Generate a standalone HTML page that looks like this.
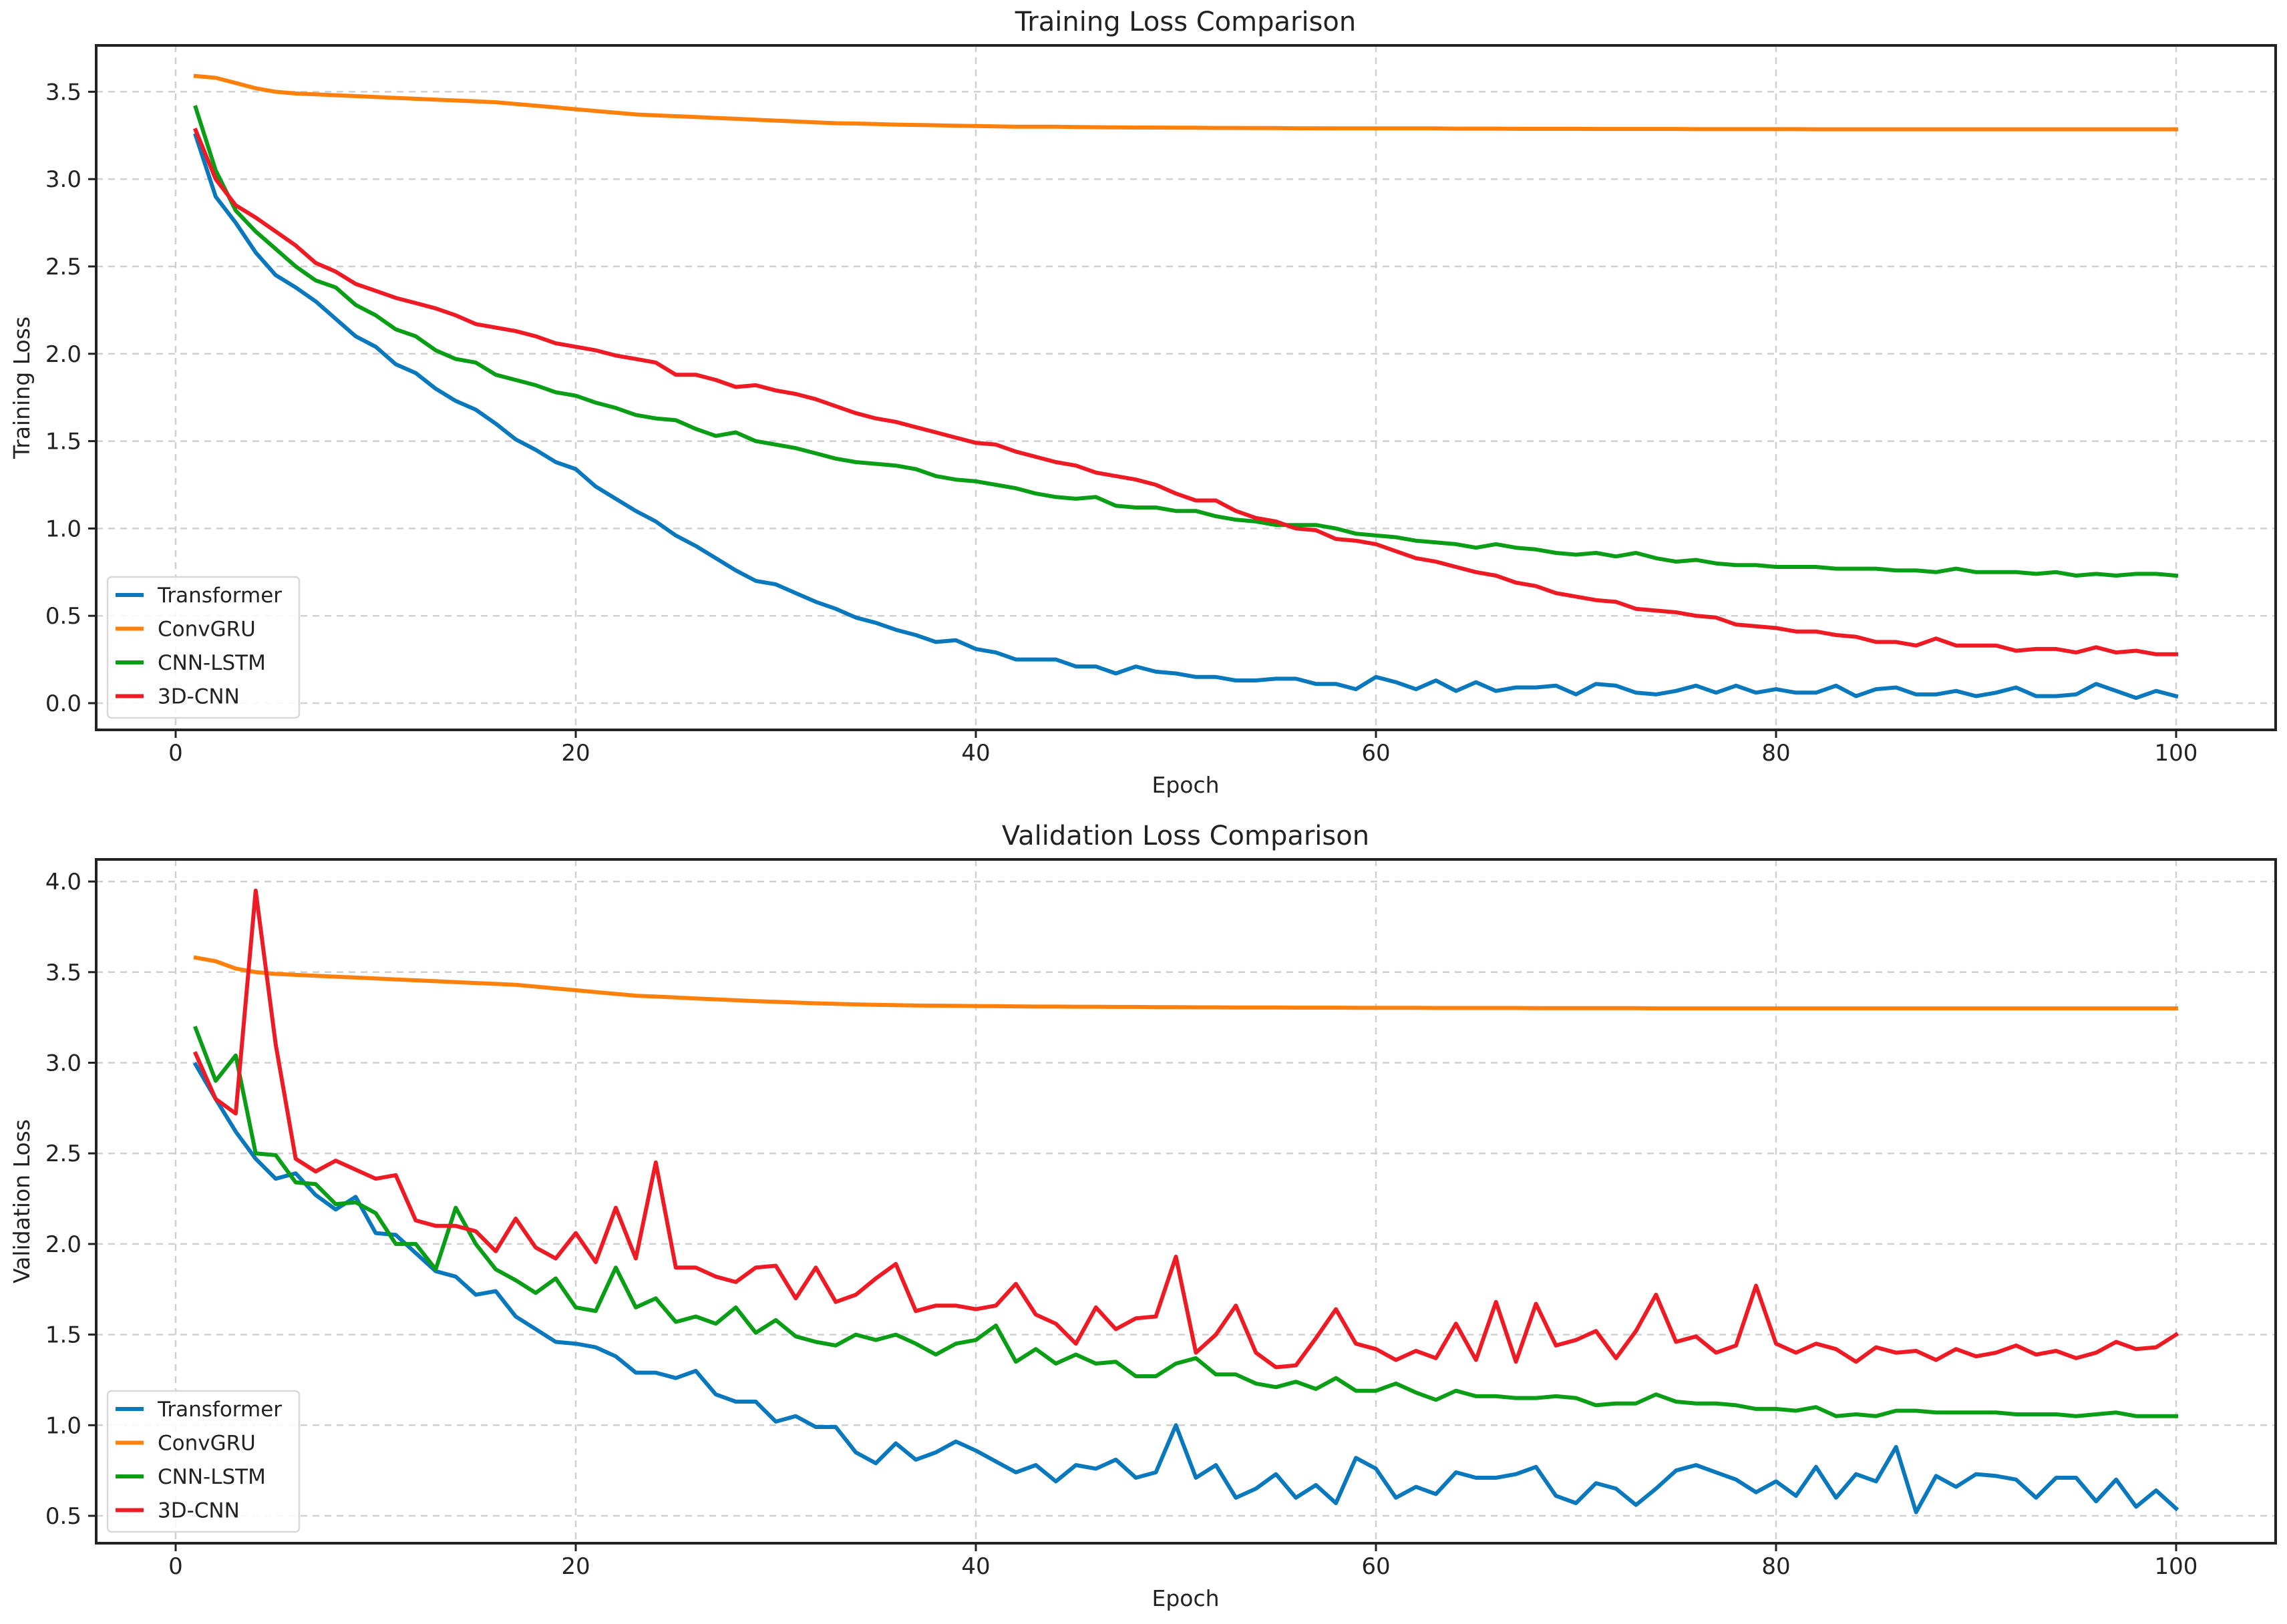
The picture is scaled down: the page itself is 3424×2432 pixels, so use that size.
<!DOCTYPE html>
<html><head><meta charset="utf-8"><style>
html,body{margin:0;padding:0;background:#fff}
svg text{font-family:"DejaVu Sans","Liberation Sans",sans-serif;fill:#222}
</style></head><body>
<svg id="fig" width="3424" height="2427" viewBox="0 0 3424 2427" xmlns="http://www.w3.org/2000/svg"></svg>
<script>
const epochs = Array.from({length:100},(_,i)=>i+1);
const seriesNames = ["Transformer","ConvGRU","CNN-LSTM","3D-CNN"];
const xTicks = [0,20,40,60,80,100];
const yTicksTrain = [0.0,0.5,1.0,1.5,2.0,2.5,3.0,3.5];
const yTicksVal = [0.5,1.0,1.5,2.0,2.5,3.0,3.5,4.0];

const trainTransformer = [3.25,2.90,2.75,2.58,2.45,2.38,2.30,2.20,2.10,2.04,1.94,1.89,1.80,1.73,1.68,1.60,1.51,1.45,1.38,1.34,1.24,1.17,1.10,1.04,0.96,0.90,0.83,0.76,0.70,0.68,0.63,0.58,0.54,0.49,0.46,0.42,0.39,0.35,0.36,0.31,0.29,0.25,0.25,0.25,0.21,0.21,0.17,0.21,0.18,0.17,0.15,0.15,0.13,0.13,0.14,0.14,0.11,0.11,0.08,0.15,0.12,0.08,0.13,0.07,0.12,0.07,0.09,0.09,0.10,0.05,0.11,0.10,0.06,0.05,0.07,0.10,0.06,0.10,0.06,0.08,0.06,0.06,0.10,0.04,0.08,0.09,0.05,0.05,0.07,0.04,0.06,0.09,0.04,0.04,0.05,0.11,0.07,0.03,0.07,0.04];
const trainConvGRU = [3.59,3.58,3.55,3.52,3.50,3.49,3.485,3.48,3.475,3.47,3.465,3.46,3.455,3.45,3.445,3.44,3.43,3.42,3.41,3.40,3.39,3.38,3.37,3.365,3.36,3.355,3.35,3.345,3.34,3.335,3.33,3.325,3.32,3.318,3.315,3.312,3.31,3.308,3.306,3.304,3.302,3.30,3.30,3.30,3.298,3.297,3.296,3.295,3.295,3.294,3.294,3.293,3.293,3.292,3.292,3.291,3.291,3.29,3.29,3.29,3.29,3.29,3.29,3.289,3.289,3.289,3.288,3.288,3.288,3.288,3.287,3.287,3.287,3.287,3.287,3.286,3.286,3.286,3.286,3.286,3.286,3.285,3.285,3.285,3.285,3.285,3.285,3.285,3.285,3.285,3.285,3.285,3.285,3.285,3.285,3.285,3.285,3.285,3.285,3.285];
const trainCnnLstm = [3.41,3.05,2.82,2.70,2.60,2.50,2.42,2.38,2.28,2.22,2.14,2.10,2.02,1.97,1.95,1.88,1.85,1.82,1.78,1.76,1.72,1.69,1.65,1.63,1.62,1.57,1.53,1.55,1.50,1.48,1.46,1.43,1.40,1.38,1.37,1.36,1.34,1.30,1.28,1.27,1.25,1.23,1.20,1.18,1.17,1.18,1.13,1.12,1.12,1.10,1.10,1.07,1.05,1.04,1.02,1.02,1.02,1.00,0.97,0.96,0.95,0.93,0.92,0.91,0.89,0.91,0.89,0.88,0.86,0.85,0.86,0.84,0.86,0.83,0.81,0.82,0.80,0.79,0.79,0.78,0.78,0.78,0.77,0.77,0.77,0.76,0.76,0.75,0.77,0.75,0.75,0.75,0.74,0.75,0.73,0.74,0.73,0.74,0.74,0.73];
const train3dCnn = [3.28,3.00,2.85,2.78,2.70,2.62,2.52,2.47,2.40,2.36,2.32,2.29,2.26,2.22,2.17,2.15,2.13,2.10,2.06,2.04,2.02,1.99,1.97,1.95,1.88,1.88,1.85,1.81,1.82,1.79,1.77,1.74,1.70,1.66,1.63,1.61,1.58,1.55,1.52,1.49,1.48,1.44,1.41,1.38,1.36,1.32,1.30,1.28,1.25,1.20,1.16,1.16,1.10,1.06,1.04,1.00,0.99,0.94,0.93,0.91,0.87,0.83,0.81,0.78,0.75,0.73,0.69,0.67,0.63,0.61,0.59,0.58,0.54,0.53,0.52,0.50,0.49,0.45,0.44,0.43,0.41,0.41,0.39,0.38,0.35,0.35,0.33,0.37,0.33,0.33,0.33,0.30,0.31,0.31,0.29,0.32,0.29,0.30,0.28,0.28];

const valTransformer = [2.99,2.80,2.62,2.47,2.36,2.39,2.27,2.19,2.26,2.06,2.05,1.95,1.85,1.82,1.72,1.74,1.60,1.53,1.46,1.45,1.43,1.38,1.29,1.29,1.26,1.30,1.17,1.13,1.13,1.02,1.05,0.99,0.99,0.85,0.79,0.90,0.81,0.85,0.91,0.86,0.80,0.74,0.78,0.69,0.78,0.76,0.81,0.71,0.74,1.00,0.71,0.78,0.60,0.65,0.73,0.60,0.67,0.57,0.82,0.76,0.60,0.66,0.62,0.74,0.71,0.71,0.73,0.77,0.61,0.57,0.68,0.65,0.56,0.65,0.75,0.78,0.74,0.70,0.63,0.69,0.61,0.77,0.60,0.73,0.69,0.88,0.52,0.72,0.66,0.73,0.72,0.70,0.60,0.71,0.71,0.58,0.70,0.55,0.64,0.54];
const valConvGRU = [3.58,3.56,3.52,3.50,3.49,3.485,3.48,3.475,3.47,3.465,3.46,3.455,3.45,3.445,3.44,3.435,3.43,3.42,3.41,3.40,3.39,3.38,3.37,3.365,3.36,3.355,3.35,3.345,3.34,3.336,3.332,3.328,3.325,3.322,3.32,3.318,3.316,3.315,3.314,3.313,3.312,3.311,3.31,3.31,3.309,3.309,3.308,3.308,3.307,3.307,3.306,3.306,3.305,3.305,3.305,3.304,3.304,3.304,3.303,3.303,3.303,3.303,3.302,3.302,3.302,3.302,3.302,3.301,3.301,3.301,3.301,3.301,3.301,3.30,3.30,3.30,3.30,3.30,3.30,3.30,3.30,3.30,3.30,3.30,3.30,3.30,3.30,3.30,3.30,3.30,3.30,3.30,3.30,3.30,3.30,3.30,3.30,3.30,3.30,3.30];
const valCnnLstm = [3.19,2.90,3.04,2.50,2.49,2.34,2.33,2.22,2.23,2.17,2.00,2.00,1.86,2.20,2.00,1.86,1.80,1.73,1.81,1.65,1.63,1.87,1.65,1.70,1.57,1.60,1.56,1.65,1.51,1.58,1.49,1.46,1.44,1.50,1.47,1.50,1.45,1.39,1.45,1.47,1.55,1.35,1.42,1.34,1.39,1.34,1.35,1.27,1.27,1.34,1.37,1.28,1.28,1.23,1.21,1.24,1.20,1.26,1.19,1.19,1.23,1.18,1.14,1.19,1.16,1.16,1.15,1.15,1.16,1.15,1.11,1.12,1.12,1.17,1.13,1.12,1.12,1.11,1.09,1.09,1.08,1.10,1.05,1.06,1.05,1.08,1.08,1.07,1.07,1.07,1.07,1.06,1.06,1.06,1.05,1.06,1.07,1.05,1.05,1.05];
const val3dCnn = [3.05,2.80,2.72,3.95,3.10,2.47,2.40,2.46,2.41,2.36,2.38,2.13,2.10,2.10,2.07,1.96,2.14,1.98,1.92,2.06,1.90,2.20,1.92,2.45,1.87,1.87,1.82,1.79,1.87,1.88,1.70,1.87,1.68,1.72,1.81,1.89,1.63,1.66,1.66,1.64,1.66,1.78,1.61,1.56,1.45,1.65,1.53,1.59,1.60,1.93,1.40,1.50,1.66,1.40,1.32,1.33,1.48,1.64,1.45,1.42,1.36,1.41,1.37,1.56,1.36,1.68,1.35,1.67,1.44,1.47,1.52,1.37,1.52,1.72,1.46,1.49,1.40,1.44,1.77,1.45,1.40,1.45,1.42,1.35,1.43,1.40,1.41,1.36,1.42,1.38,1.40,1.44,1.39,1.41,1.37,1.40,1.46,1.42,1.43,1.50];

const colors = ["#0a78bc","#ff800a","#0a9e16","#ee1a24"];
const NS = "http://www.w3.org/2000/svg";
const svg = document.getElementById('fig');
function mk(tag, attrs, parent){const e=document.createElementNS(NS,tag);for(const k in attrs)e.setAttribute(k,attrs[k]);(parent||svg).appendChild(e);return e;}

function drawPanel(cfg){
  const g = mk('g',{});
  
  
  const X = v => 263 + v*29.95;
  const Y = v => cfg.y0px - (v - cfg.y0) * cfg.ppu;
  xTicks.forEach(t=>{
    const l = mk('line',{x1:X(t),x2:X(t),y1:cfg.top,y2:cfg.bottom,stroke:'#d0d0d0','stroke-width':2.5,'stroke-dasharray':'10,8'},g);
    
    
  });
  cfg.yTicks.forEach(t=>{
    const l = mk('line',{x1:144,x2:3407,y1:Y(t),y2:Y(t),stroke:'#d0d0d0','stroke-width':2.5,'stroke-dasharray':'10,8'},g);
    
    
  });
  cfg.series.forEach((arr,si)=>{
    const pts = arr.map((v,i)=>X(epochs[i]).toFixed(1)+','+Y(v).toFixed(1)).join(' ');
    const p = mk('polyline',{points:pts,fill:'none',stroke:colors[si],'stroke-width':6,'stroke-linejoin':'round','stroke-linecap':'square'},g);
    
    
  });
  const fr = mk('rect',{x:144,y:cfg.top,width:3263,height:cfg.bottom-cfg.top,fill:'none',stroke:'#222','stroke-width':4},g);
  
  
  xTicks.forEach(t=>{
    mk('line',{x1:X(t),x2:X(t),y1:cfg.bottom,y2:cfg.bottom+12,stroke:'#222','stroke-width':3},g);
    const tx = mk('text',{x:X(t),y:cfg.bottom+46,'font-size':34,'text-anchor':'middle'},g);
    tx.textContent = t;
    
    
  });
  cfg.yTicks.forEach(t=>{
    mk('line',{x1:132,x2:144,y1:Y(t),y2:Y(t),stroke:'#222','stroke-width':3},g);
    const tx = mk('text',{x:122,y:Y(t)+12,'font-size':34,'text-anchor':'end'},g);
    tx.textContent = t.toFixed(1);
    
    
  });
  const ti = mk('text',{x:1775,y:cfg.top-22,'font-size':40,'text-anchor':'middle'},g);
  ti.textContent = cfg.title;
  
  
  const xl = mk('text',{x:1775,y:cfg.bottom+94,'font-size':33,'text-anchor':'middle'},g);
  xl.textContent = 'Epoch';
  
  
  const cy = (cfg.top+cfg.bottom)/2;
  const yl = mk('text',{x:44,y:cy,'font-size':33,'text-anchor':'middle',transform:`rotate(-90 44 ${cy})`},g);
  yl.textContent = cfg.ylabel;
  
  
  const lg = mk('g',{},g);
  
  
  mk('rect',{x:161,y:cfg.legTop,width:287,height:211,rx:6,fill:'#fff','fill-opacity':0.85,stroke:'#d8d8d8','stroke-width':2.5},lg);
  seriesNames.forEach((n,i)=>{
    const ry = cfg.legTop + 27 + i*50.5;
    const e = mk('g',{},lg);
    
    
    mk('line',{x1:173,x2:215,y1:ry,y2:ry,stroke:colors[i],'stroke-width':6},e);
    const t = mk('text',{x:236,y:ry+11,'font-size':31},e);
    t.textContent = n;
  });
}
drawPanel({name:'training-loss-chart',title:'Training Loss Comparison',ylabel:'Training Loss',top:68,bottom:1093,y0:0,y0px:1053,ppu:261.6,yTicks:yTicksTrain,legTop:864,
  series:[trainTransformer,trainConvGRU,trainCnnLstm,train3dCnn]});
drawPanel({name:'validation-loss-chart',title:'Validation Loss Comparison',ylabel:'Validation Loss',top:1287,bottom:2311,y0:0.5,y0px:2270,ppu:271.4,yTicks:yTicksVal,legTop:2083,
  series:[valTransformer,valConvGRU,valCnnLstm,val3dCnn]});
</script>
</body></html>
